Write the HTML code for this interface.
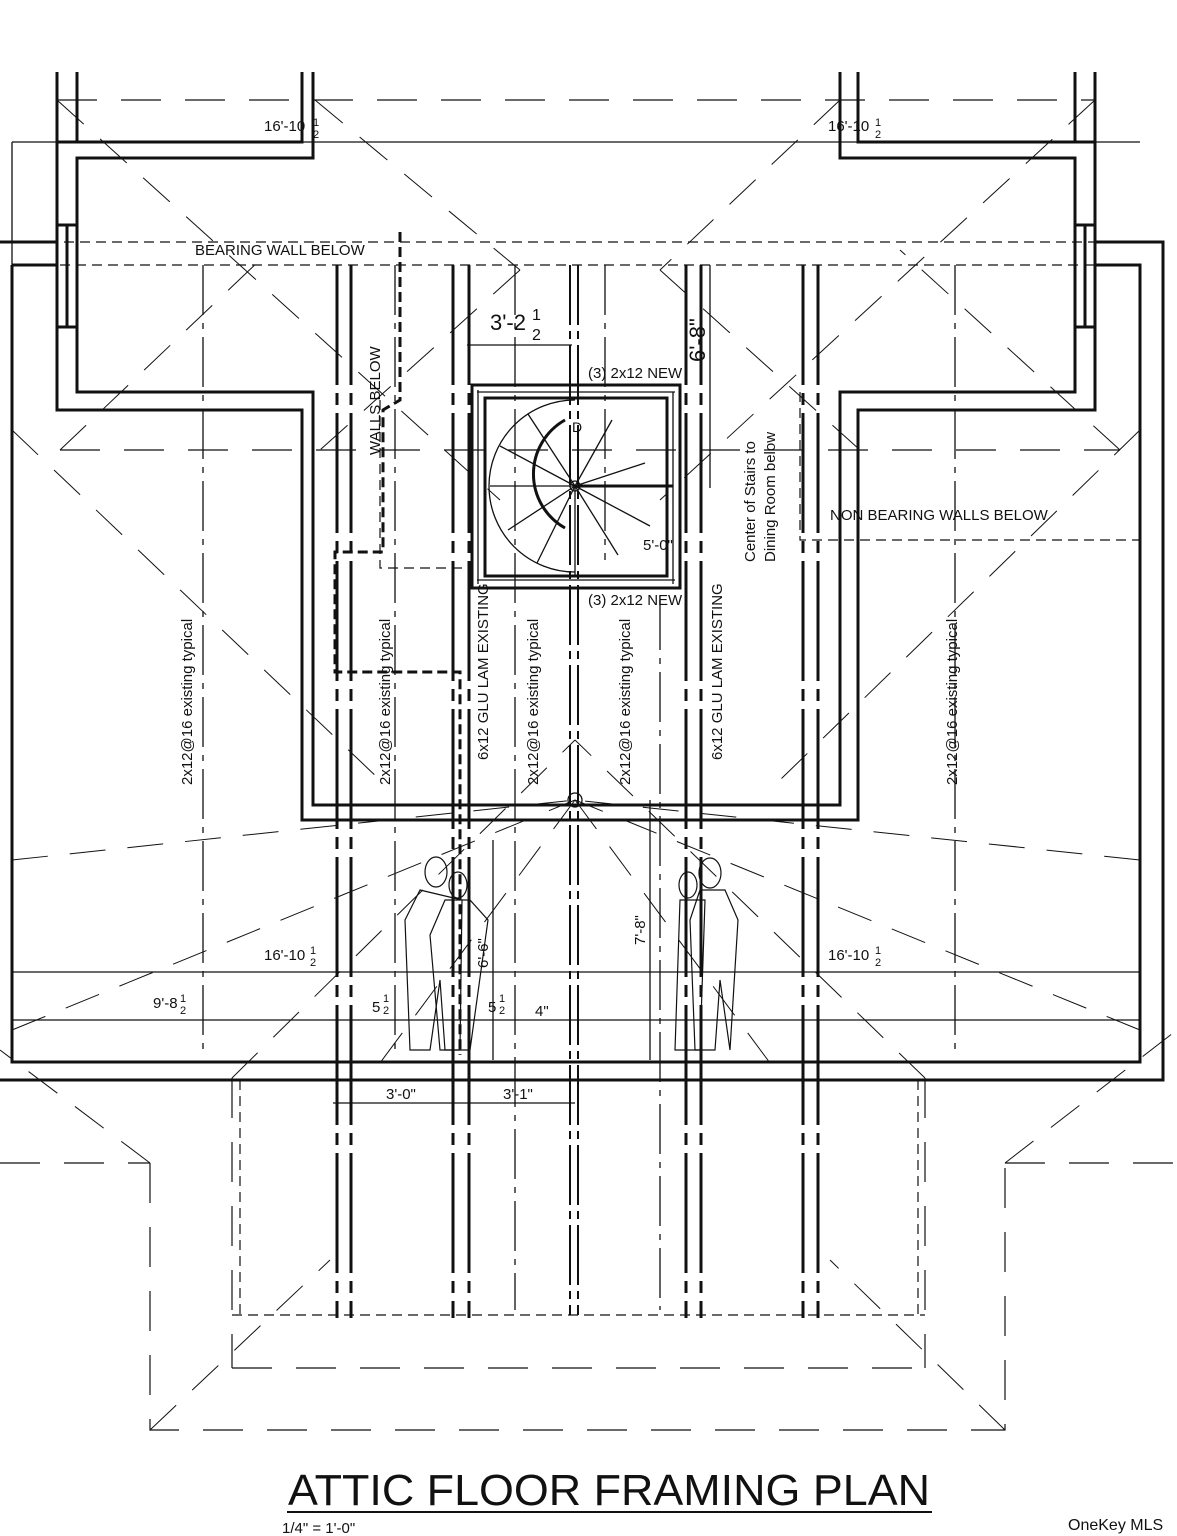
<!DOCTYPE html><html><head><style>body{margin:0;background:#fff}svg{display:block}text{font-family:"Liberation Sans",sans-serif;fill:#111}</style></head><body>
<svg width="1177" height="1536" viewBox="0 0 1177 1536" xmlns="http://www.w3.org/2000/svg">
<g fill="none" stroke="#111">
<g stroke-width="1.2" stroke-dasharray="40,24">
<line x1="57" y1="100" x2="1095" y2="100"/>
<line x1="0" y1="1163" x2="150" y2="1163"/><line x1="1005" y1="1163" x2="1177" y2="1163"/>
<polyline points="150,1163 150,1430 1005,1430 1005,1163"/>
<line x1="232" y1="1078" x2="232" y2="1368"/><line x1="925" y1="1078" x2="925" y2="1368"/>
<line x1="232" y1="1368" x2="925" y2="1368"/>
<line x1="60" y1="450" x2="1120" y2="450"/>
</g>
<g stroke-width="1" stroke-dasharray="36,22">
<line x1="57" y1="100" x2="500" y2="500"/><line x1="1095" y1="100" x2="660" y2="500"/>
<line x1="315" y1="100" x2="520" y2="270"/><line x1="840" y1="100" x2="660" y2="270"/>
<line x1="60" y1="450" x2="260" y2="260"/><line x1="1120" y1="450" x2="900" y2="250"/>
<line x1="520" y1="270" x2="320" y2="450"/><line x1="660" y1="270" x2="860" y2="450"/>
<line x1="150" y1="1163" x2="0" y2="1050"/><line x1="1005" y1="1163" x2="1177" y2="1030"/>
<line x1="150" y1="1430" x2="330" y2="1260"/><line x1="1005" y1="1430" x2="830" y2="1260"/>
<line x1="232" y1="1078" x2="575" y2="740"/><line x1="925" y1="1078" x2="575" y2="740"/>
<line x1="12" y1="1030" x2="575" y2="800"/><line x1="1140" y1="1030" x2="575" y2="800"/>
<line x1="12" y1="860" x2="575" y2="800"/><line x1="1140" y1="860" x2="575" y2="800"/>
<line x1="575" y1="800" x2="380" y2="1063"/><line x1="575" y1="800" x2="770" y2="1063"/>
<line x1="12" y1="430" x2="380" y2="780"/><line x1="1140" y1="430" x2="780" y2="780"/>
</g>
<g stroke-width="1.2" stroke-dasharray="10,6">
<line x1="0" y1="242" x2="1163" y2="242"/><line x1="12" y1="265" x2="1140" y2="265"/>
<polyline points="800,392 800,540 1140,540"/>
<polyline points="380,400 380,568 470,568"/>
<line x1="232" y1="1315" x2="925" y2="1315"/><line x1="240" y1="1080" x2="240" y2="1315"/><line x1="918" y1="1080" x2="918" y2="1315"/>
</g>
<g stroke-width="1.3" stroke-dasharray="50,8,6,8">
<line x1="203" y1="265" x2="203" y2="1055"/><line x1="395" y1="265" x2="395" y2="1055"/>
<line x1="515" y1="265" x2="515" y2="1310"/><line x1="605" y1="265" x2="605" y2="560"/>
<line x1="660" y1="600" x2="660" y2="1310"/><line x1="955" y1="265" x2="955" y2="1055"/>
</g>
<g stroke-width="2" stroke-dasharray="60,6,8,6">
<line x1="570" y1="265" x2="570" y2="1315"/><line x1="578" y1="265" x2="578" y2="1315"/>
</g>
<g stroke-width="3" stroke-dasharray="120,8,12,8">
<line x1="337" y1="265" x2="337" y2="1318"/><line x1="351" y1="265" x2="351" y2="1318"/>
<line x1="453" y1="265" x2="453" y2="1318"/><line x1="469" y1="265" x2="469" y2="1318"/>
<line x1="686" y1="265" x2="686" y2="1318"/><line x1="701" y1="265" x2="701" y2="1318"/>
<line x1="803" y1="265" x2="803" y2="1318"/><line x1="818" y1="265" x2="818" y2="1318"/>
</g>
<polyline stroke-width="3" stroke-dasharray="10,5" points="400,232 400,400 383,410 383,552 335,552 335,672 460,672 460,1055"/>
<g stroke-width="3">
<path d="M302,72 V142 H57 V410 H302 V820 H858 V410 H1095 V142 H858 V72"/>
<path d="M313,72 V158 H77 V392 H313 V805 H840 V392 H1075 V158 H840 V72"/>
<line x1="57" y1="72" x2="57" y2="142"/><line x1="77" y1="72" x2="77" y2="142"/>
<line x1="1095" y1="72" x2="1095" y2="142"/><line x1="1075" y1="72" x2="1075" y2="142"/>
<path d="M0,242 H57 M12,265 H57 M12,265 V1062 H1140 V265 H1095 M1095,242 H1163 V1080 H0"/>
<rect x="57" y="225" width="20" height="102"/><line x1="67" y1="225" x2="67" y2="327"/>
<rect x="1075" y="225" width="20" height="102"/><line x1="1085" y1="225" x2="1085" y2="327"/>
<rect x="472" y="385" width="208" height="203"/>
<rect x="485" y="398" width="182" height="178"/>
</g>
<g stroke-width="1.3">
<line x1="477" y1="392" x2="675" y2="392"/><line x1="477" y1="580" x2="675" y2="580"/>
<line x1="478" y1="390" x2="478" y2="584"/><line x1="673" y1="392" x2="673" y2="584"/>
<path d="M575,400 A86,86 0 0,0 575,572"/>
<line x1="575" y1="486" x2="490" y2="486"/><line x1="575" y1="486" x2="508" y2="530"/>
<line x1="575" y1="486" x2="537" y2="563"/><line x1="575" y1="486" x2="500" y2="446"/>
<line x1="575" y1="486" x2="528" y2="414"/><line x1="575" y1="486" x2="612" y2="420"/>
<line x1="575" y1="486" x2="645" y2="463"/><line x1="575" y1="486" x2="650" y2="526"/>
<line x1="575" y1="486" x2="618" y2="555"/><line x1="575" y1="486" x2="575" y2="575"/>
<circle cx="575" cy="486" r="5"/><circle cx="575" cy="800" r="7"/>
<line x1="12" y1="972" x2="1140" y2="972"/><line x1="12" y1="1020" x2="1140" y2="1020"/>
<line x1="12" y1="142" x2="1140" y2="142"/><line x1="12" y1="142" x2="12" y2="265"/>
<line x1="333" y1="1103" x2="575" y2="1103"/>
<line x1="467" y1="345" x2="572" y2="345"/>
<line x1="710" y1="265" x2="710" y2="488"/>
<line x1="650" y1="800" x2="650" y2="1060"/>
<line x1="493" y1="840" x2="493" y2="1060"/>
</g>
<path d="M575,486 H673" stroke-width="3"/>
<path d="M565,420 A62,62 0 0,0 565,528" stroke-width="3"/>
<g stroke-width="1.2">
<ellipse cx="436" cy="872" rx="11" ry="15"/><ellipse cx="458" cy="885" rx="9" ry="13"/>
<path d="M420,890 L405,920 L410,1050 L430,1050 L440,980 L445,1050 L460,1050 L462,900 Z"/>
<path d="M445,900 L430,935 L440,1050 L470,1050 L488,920 L470,900 Z"/>
<ellipse cx="688" cy="885" rx="9" ry="13"/><ellipse cx="710" cy="873" rx="11" ry="15"/>
<path d="M680,900 L675,1050 L700,1050 L705,900 Z"/>
<path d="M700,890 L690,920 L695,1050 L715,1050 L720,980 L730,1050 L738,920 L725,890 Z"/>
</g>
</g>
<g font-size="15">
<text x="264" y="131">16'-10</text><text x="313" y="126" font-size="11">1</text><text x="313" y="138" font-size="11">2</text>
<text x="828" y="131">16'-10</text><text x="875" y="126" font-size="11">1</text><text x="875" y="138" font-size="11">2</text>
<text x="195" y="255">BEARING WALL BELOW</text>
<text x="830" y="520">NON BEARING WALLS BELOW</text>
<text x="588" y="378">(3) 2x12 NEW</text><text x="588" y="605">(3) 2x12 NEW</text>
<text x="264" y="960">16'-10</text><text x="310" y="954" font-size="11">1</text><text x="310" y="966" font-size="11">2</text>
<text x="828" y="960">16'-10</text><text x="875" y="954" font-size="11">1</text><text x="875" y="966" font-size="11">2</text>
<text x="153" y="1008">9'-8</text><text x="180" y="1002" font-size="11">1</text><text x="180" y="1014" font-size="11">2</text>
<text x="372" y="1012">5</text><text x="383" y="1002" font-size="11">1</text><text x="383" y="1014" font-size="11">2</text>
<text x="488" y="1012">5</text><text x="499" y="1002" font-size="11">1</text><text x="499" y="1014" font-size="11">2</text>
<text x="535" y="1016">4"</text><text x="386" y="1099">3'-0"</text><text x="503" y="1099">3'-1"</text>
<text x="643" y="550">5'-0"</text>
<text transform="translate(380,455) rotate(-90)">WALLS BELOW</text>
<text transform="translate(755,562) rotate(-90)">Center of Stairs to</text>
<text transform="translate(775,562) rotate(-90)">Dining Room below</text>
<text transform="translate(192,785) rotate(-90)">2x12@16  existing typical</text>
<text transform="translate(390,785) rotate(-90)">2x12@16  existing typical</text>
<text transform="translate(538,785) rotate(-90)">2x12@16  existing typical</text>
<text transform="translate(630,785) rotate(-90)">2x12@16  existing typical</text>
<text transform="translate(957,785) rotate(-90)">2x12@16  existing typical</text>
<text transform="translate(488,760) rotate(-90)">6x12 GLU LAM EXISTING</text>
<text transform="translate(722,760) rotate(-90)">6x12 GLU LAM EXISTING</text>
<text transform="translate(488,968) rotate(-90)">6'-6"</text>
<text transform="translate(645,945) rotate(-90)">7'-8"</text>
</g>
<text x="490" y="330" font-size="22">3'-2</text><text x="532" y="320" font-size="16">1</text><text x="532" y="340" font-size="16">2</text>
<text transform="translate(705,362) rotate(-90)" font-size="22">6'-8"</text>
<text x="572" y="432" font-size="14">D</text>
<text x="288" y="1505" font-size="44" textLength="642" lengthAdjust="spacingAndGlyphs">ATTIC FLOOR FRAMING PLAN</text>
<line x1="287" y1="1512" x2="932" y2="1512" stroke="#111" stroke-width="2"/>
<text x="282" y="1533" font-size="15">1/4" = 1'-0"</text>
<text x="1068" y="1530" font-size="16" fill="#888">OneKey MLS</text>
</svg></body></html>
